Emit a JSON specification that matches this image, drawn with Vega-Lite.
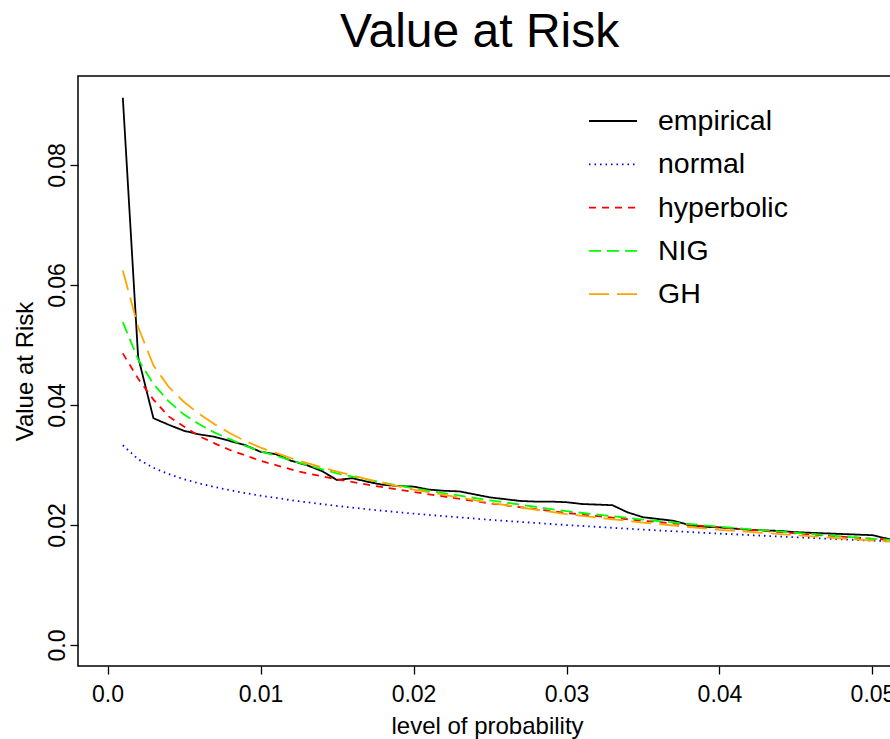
{
  "$schema": "https://vega.github.io/schema/vega-lite/v6.json",
  "width": 813,
  "height": 590,
  "autosize": {"type": "none"},
  "padding": {"left": 78, "top": 76, "right": 0, "bottom": 73},
  "background": "white",
  "title": {
    "text": "Value at Risk",
    "font": "Liberation Sans",
    "fontSize": 48,
    "fontWeight": "normal",
    "color": "black",
    "anchor": "start",
    "frame": "group",
    "baseline": "alphabetic",
    "dx": 262,
    "dy": 45,
    "offset": 26
  },
  "config": {
    "view": {"stroke": "black", "strokeWidth": 1.5},
    "axis": {
      "grid": false,
      "domain": false,
      "tickColor": "black",
      "tickWidth": 1.3,
      "tickSize": 8,
      "labelFont": "Liberation Sans",
      "labelFontSize": 23,
      "labelColor": "black",
      "titleFont": "Liberation Sans",
      "titleFontSize": 24,
      "titleFontWeight": "normal",
      "titleColor": "black"
    },
    "legend": {
      "orient": "none",
      "legendX": 510,
      "legendY": 20,
      "symbolType": "stroke",
      "symbolSize": 2304,
      "symbolStrokeWidth": 1.8,
      "labelFont": "Liberation Sans",
      "labelFontSize": 28.5,
      "labelColor": "black",
      "labelOffset": 20,
      "rowPadding": 3.3,
      "padding": 0,
      "title": null
    }
  },
  "data": {
    "values": [
      {"s":"empirical","p":0.001,"v":0.0912},
      {"s":"empirical","p":0.002,"v":0.0480},
      {"s":"empirical","p":0.003,"v":0.0378},
      {"s":"empirical","p":0.004,"v":0.0367},
      {"s":"empirical","p":0.005,"v":0.0357},
      {"s":"empirical","p":0.006,"v":0.0351},
      {"s":"empirical","p":0.007,"v":0.0347},
      {"s":"empirical","p":0.008,"v":0.0340},
      {"s":"empirical","p":0.009,"v":0.0333},
      {"s":"empirical","p":0.010,"v":0.0322},
      {"s":"empirical","p":0.011,"v":0.0318},
      {"s":"empirical","p":0.012,"v":0.0307},
      {"s":"empirical","p":0.013,"v":0.0300},
      {"s":"empirical","p":0.014,"v":0.0290},
      {"s":"empirical","p":0.015,"v":0.0275},
      {"s":"empirical","p":0.016,"v":0.0278},
      {"s":"empirical","p":0.017,"v":0.0272},
      {"s":"empirical","p":0.018,"v":0.0267},
      {"s":"empirical","p":0.019,"v":0.0265},
      {"s":"empirical","p":0.020,"v":0.0264},
      {"s":"empirical","p":0.021,"v":0.0259},
      {"s":"empirical","p":0.022,"v":0.0257},
      {"s":"empirical","p":0.023,"v":0.0256},
      {"s":"empirical","p":0.024,"v":0.0251},
      {"s":"empirical","p":0.025,"v":0.0246},
      {"s":"empirical","p":0.026,"v":0.0243},
      {"s":"empirical","p":0.027,"v":0.0240},
      {"s":"empirical","p":0.028,"v":0.0239},
      {"s":"empirical","p":0.029,"v":0.0239},
      {"s":"empirical","p":0.030,"v":0.0238},
      {"s":"empirical","p":0.031,"v":0.0235},
      {"s":"empirical","p":0.032,"v":0.0234},
      {"s":"empirical","p":0.033,"v":0.0233},
      {"s":"empirical","p":0.034,"v":0.0221},
      {"s":"empirical","p":0.035,"v":0.0213},
      {"s":"empirical","p":0.036,"v":0.0210},
      {"s":"empirical","p":0.037,"v":0.0207},
      {"s":"empirical","p":0.038,"v":0.0200},
      {"s":"empirical","p":0.039,"v":0.0197},
      {"s":"empirical","p":0.040,"v":0.0196},
      {"s":"empirical","p":0.041,"v":0.0194},
      {"s":"empirical","p":0.042,"v":0.0192},
      {"s":"empirical","p":0.043,"v":0.0191},
      {"s":"empirical","p":0.044,"v":0.0190},
      {"s":"empirical","p":0.045,"v":0.0188},
      {"s":"empirical","p":0.046,"v":0.0187},
      {"s":"empirical","p":0.047,"v":0.0186},
      {"s":"empirical","p":0.048,"v":0.0185},
      {"s":"empirical","p":0.049,"v":0.0184},
      {"s":"empirical","p":0.050,"v":0.0183},
      {"s":"empirical","p":0.051,"v":0.0177},
      {"s":"empirical","p":0.052,"v":0.0172},
      {"s":"normal","p":0.001,"v":0.03329},
      {"s":"normal","p":0.002,"v":0.03096},
      {"s":"normal","p":0.003,"v":0.02953},
      {"s":"normal","p":0.004,"v":0.02847},
      {"s":"normal","p":0.005,"v":0.02763},
      {"s":"normal","p":0.006,"v":0.02693},
      {"s":"normal","p":0.007,"v":0.02633},
      {"s":"normal","p":0.008,"v":0.02580},
      {"s":"normal","p":0.009,"v":0.02532},
      {"s":"normal","p":0.010,"v":0.02489},
      {"s":"normal","p":0.0125,"v":0.02396},
      {"s":"normal","p":0.015,"v":0.02317},
      {"s":"normal","p":0.0175,"v":0.02249},
      {"s":"normal","p":0.020,"v":0.02189},
      {"s":"normal","p":0.025,"v":0.02086},
      {"s":"normal","p":0.030,"v":0.01999},
      {"s":"normal","p":0.035,"v":0.01923},
      {"s":"normal","p":0.040,"v":0.01856},
      {"s":"normal","p":0.045,"v":0.01795},
      {"s":"normal","p":0.050,"v":0.01739},
      {"s":"normal","p":0.052,"v":0.01718},
      {"s":"hyperbolic","p":0.001,"v":0.0486},
      {"s":"hyperbolic","p":0.002,"v":0.0444},
      {"s":"hyperbolic","p":0.003,"v":0.0409},
      {"s":"hyperbolic","p":0.004,"v":0.0381},
      {"s":"hyperbolic","p":0.005,"v":0.0364},
      {"s":"hyperbolic","p":0.006,"v":0.0348},
      {"s":"hyperbolic","p":0.007,"v":0.0336},
      {"s":"hyperbolic","p":0.008,"v":0.0325},
      {"s":"hyperbolic","p":0.009,"v":0.0316},
      {"s":"hyperbolic","p":0.010,"v":0.0307},
      {"s":"hyperbolic","p":0.0125,"v":0.0289},
      {"s":"hyperbolic","p":0.015,"v":0.0276},
      {"s":"hyperbolic","p":0.0175,"v":0.0265},
      {"s":"hyperbolic","p":0.020,"v":0.0255},
      {"s":"hyperbolic","p":0.025,"v":0.0236},
      {"s":"hyperbolic","p":0.030,"v":0.0220},
      {"s":"hyperbolic","p":0.035,"v":0.0207},
      {"s":"hyperbolic","p":0.040,"v":0.0196},
      {"s":"hyperbolic","p":0.045,"v":0.0186},
      {"s":"hyperbolic","p":0.050,"v":0.0177},
      {"s":"hyperbolic","p":0.052,"v":0.0174},
      {"s":"NIG","p":0.001,"v":0.0538},
      {"s":"NIG","p":0.002,"v":0.0476},
      {"s":"NIG","p":0.003,"v":0.0435},
      {"s":"NIG","p":0.004,"v":0.0406},
      {"s":"NIG","p":0.005,"v":0.0384},
      {"s":"NIG","p":0.006,"v":0.0368},
      {"s":"NIG","p":0.007,"v":0.0354},
      {"s":"NIG","p":0.008,"v":0.0343},
      {"s":"NIG","p":0.009,"v":0.0332},
      {"s":"NIG","p":0.010,"v":0.0323},
      {"s":"NIG","p":0.0125,"v":0.0304},
      {"s":"NIG","p":0.015,"v":0.0286},
      {"s":"NIG","p":0.0175,"v":0.0273},
      {"s":"NIG","p":0.020,"v":0.0261},
      {"s":"NIG","p":0.025,"v":0.0241},
      {"s":"NIG","p":0.030,"v":0.0223},
      {"s":"NIG","p":0.035,"v":0.0209},
      {"s":"NIG","p":0.040,"v":0.0197},
      {"s":"NIG","p":0.045,"v":0.0187},
      {"s":"NIG","p":0.050,"v":0.0177},
      {"s":"NIG","p":0.052,"v":0.0174},
      {"s":"GH","p":0.001,"v":0.0624},
      {"s":"GH","p":0.002,"v":0.0530},
      {"s":"GH","p":0.003,"v":0.0466},
      {"s":"GH","p":0.004,"v":0.0430},
      {"s":"GH","p":0.005,"v":0.0405},
      {"s":"GH","p":0.006,"v":0.0385},
      {"s":"GH","p":0.007,"v":0.0368},
      {"s":"GH","p":0.008,"v":0.0353},
      {"s":"GH","p":0.009,"v":0.0340},
      {"s":"GH","p":0.010,"v":0.0329},
      {"s":"GH","p":0.0125,"v":0.0307},
      {"s":"GH","p":0.015,"v":0.0289},
      {"s":"GH","p":0.0175,"v":0.0273},
      {"s":"GH","p":0.020,"v":0.0259},
      {"s":"GH","p":0.025,"v":0.0237},
      {"s":"GH","p":0.030,"v":0.0218},
      {"s":"GH","p":0.035,"v":0.0204},
      {"s":"GH","p":0.040,"v":0.0192},
      {"s":"GH","p":0.045,"v":0.0183},
      {"s":"GH","p":0.050,"v":0.0174},
      {"s":"GH","p":0.052,"v":0.0171}
    ]
  },
  "mark": {"type": "line", "strokeWidth": 1.8, "clip": true},
  "encoding": {
    "x": {
      "field": "p",
      "type": "quantitative",
      "scale": {"domain": [-0.00193, 0.05121], "nice": false, "zero": false},
      "axis": {
        "values": [0, 0.01, 0.02, 0.03, 0.04, 0.05],
        "labelExpr": "datum.value == 0 ? '0.0' : format(datum.value, '.2f')",
        "labelPadding": 9,
        "labelFlush": false,
        "title": "level of probability",
        "titleX": 409,
        "titleY": 67,
        "titleBaseline": "alphabetic",
        "titleAnchor": null
      }
    },
    "y": {
      "field": "v",
      "type": "quantitative",
      "scale": {"domain": [-0.0035, 0.09483], "nice": false, "zero": false},
      "axis": {
        "values": [0, 0.02, 0.04, 0.06, 0.08],
        "labelExpr": "datum.value == 0 ? '0.0' : format(datum.value, '.2f')",
        "labelAngle": 270,
        "labelAlign": "center",
        "labelBaseline": "alphabetic",
        "labelPadding": 6,
        "labelFlush": false,
        "title": "Value at Risk",
        "titleAngle": 270,
        "titleX": -46,
        "titleY": 295,
        "titleAlign": "center",
        "titleBaseline": "alphabetic"
      }
    },
    "color": {
      "field": "s",
      "type": "nominal",
      "scale": {
        "domain": ["empirical", "normal", "hyperbolic", "NIG", "GH"],
        "range": ["#000000", "#0000FF", "#FF0000", "#00FF00", "#FFA500"]
      },
      "legend": {}
    },
    "strokeDash": {
      "field": "s",
      "type": "nominal",
      "scale": {
        "domain": ["empirical", "normal", "hyperbolic", "NIG", "GH"],
        "range": [[1, 0], [1.5, 4], [7, 6], [12, 6], [20, 8]]
      },
      "legend": {}
    }
  }
}
